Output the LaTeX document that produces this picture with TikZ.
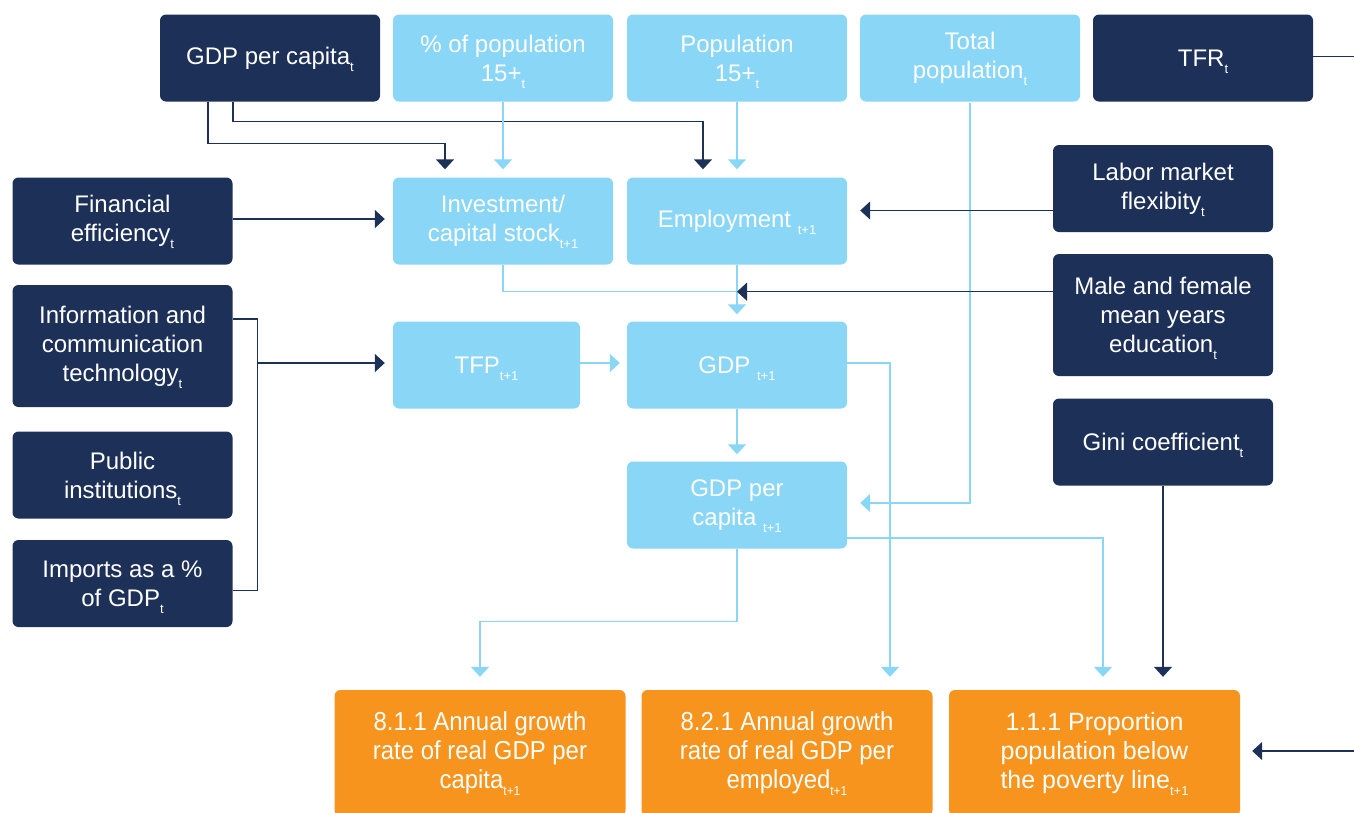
\documentclass[tikz,border=0pt]{standalone}
\usepackage{fontspec}
\setmainfont{Liberation Sans}
\newfontfamily\narrowfont[FakeStretch=0.92]{Liberation Sans}
\usetikzlibrary{arrows.meta, positioning, calc}
\definecolor{navy}{HTML}{1D3058}
\definecolor{sky}{HTML}{89D6F6}
\definecolor{amber}{HTML}{F7941E}
\newcommand{\idx}[1]{\raisebox{-7pt}[0pt][0pt]{\fontsize{13}{13}\selectfont #1}}

\begin{document}
\begin{tikzpicture}[x=1pt, y=-1pt,
    box/.style={rounded corners=6pt, text=white, align=center, inner sep=0pt,
      minimum width=220pt, minimum height=87pt, font=\fontsize{24}{29}\selectfont},
    darkbox/.style={box, fill=navy},
    lightbox/.style={box, fill=sky},
    goalbox/.style={box, fill=amber, minimum width=291pt, minimum height=126pt,
      font=\fontsize{25}{29}\selectfont},
    narrowgoal/.style={goalbox, font=\fontsize{26}{29}\narrowfont},
    dline/.style={draw=navy, line width=1.4pt},
    lline/.style={draw=sky, line width=1.4pt},
    darr/.style={dline, -{Triangle[width=18pt,length=10pt]}},
    larr/.style={lline, -{Triangle[width=18pt,length=10pt]}}]
  \useasboundingbox (0,0) rectangle (1354,812);
  \clip (0,0) rectangle (1354,812);

  % top row
  \node[darkbox] (gdppc) at (270,58) {GDP per capita\idx{t}};
  \node[lightbox] (pct15) at (503,58) {\% of population\\15+\idx{t}};
  \node[lightbox] (pop15) at (737,58) {Population\\15+\idx{t}};
  \node[lightbox] (totpop) at (970,58) {Total\\population\idx{t}};
  \node[darkbox] (tfr) at (1203,58) {TFR\idx{t}};

  % left column
  \node[darkbox] (fin) at (122.5,221) {Financial\\efficiency\idx{t}};
  \node[darkbox, minimum height=122pt] (ict) at (122.5,346) {Information and\\communication\\technology\idx{t}};
  \node[darkbox] (pub) at (122.5,475) {Public\\institutions\idx{t}};
  \node[darkbox] (imp) at (122.5,583.5) {Imports as a \%\\of GDP\idx{t}};

  % middle
  \node[lightbox] (inv) at (503,221) {Investment/\\capital stock\idx{t+1}};
  \node[lightbox] (emp) at (737,221) {Employment \idx{t+1}};
  \node[lightbox, minimum width=187pt] (tfp) at (486.5,365) {TFP\idx{t+1}};
  \node[lightbox] (gdp) at (737,365) {GDP \idx{t+1}};
  \node[lightbox] (gdppc1) at (737,505) {GDP per\\capita \idx{t+1}};

  % right column
  \node[darkbox] (labor) at (1163,188.5) {Labor market\\flexibity\idx{t}};
  \node[darkbox, minimum height=122pt] (edu) at (1163,315) {Male and female\\mean years\\education\idx{t}};
  \node[darkbox] (gini) at (1163,442) {Gini coefficient\idx{t}};

  % goals
  \node[narrowgoal] (sdg811) at (480,753) {8.1.1 Annual growth\\rate of real GDP per\\capita\idx{t+1}};
  \node[narrowgoal] (sdg821) at (787,753) {8.2.1 Annual growth\\rate of real GDP per\\employed\idx{t+1}};
  \node[goalbox] (pov) at (1094.5,753) {1.1.1 Proportion\\population below\\the poverty line\idx{t+1}};

  \coordinate (tfrend) at (1360,56.5);
  \coordinate (povin) at (1360,751);
  \coordinate (join) at ($(emp.south)+(0,27)$);
  \coordinate (bus) at ($(ict.east)+(25,0)$);

  \draw[darr, shorten >=8pt] ([xshift=-62pt]gdppc.south) -- ++(0,42) -| ([xshift=-58pt]inv.north);
  \draw[darr, shorten >=8pt] ([xshift=-37pt]gdppc.south) -- ++(0,20) -| ([xshift=-34pt]emp.north);
  \draw[larr, shorten >=8pt] (pct15.south) -- (inv.north);
  \draw[larr, shorten >=8pt] (pop15.south) -- (emp.north);
  \draw[larr, shorten >=13pt] ([yshift=-1pt]totpop.south) |- ([yshift=2pt]gdppc1.east);
  \draw[dline] (tfr.east |- tfrend) -- (tfrend);

  \draw[darr, shorten >=8pt] ([yshift=2pt]fin.east) -- ([yshift=2pt]inv.west);
  \draw[darr, shorten >=13pt] ([yshift=-22pt]labor.west) -- ([yshift=-22pt]labor.west -| emp.east);

  \draw[lline] (inv.south) |- (join);
  \draw[larr, shorten >=7pt] (emp.south) -- (gdp.north);
  \draw[darr] (join -| edu.west) -- (join);

  \draw[dline] ([yshift=27pt]ict.east) -| ([yshift=-7pt]imp.east -| bus) -- ([yshift=-7pt]imp.east);
  \draw[darr, shorten >=8pt] ([yshift=2pt]tfp.west -| bus) -- ([yshift=2pt]tfp.west);
  \draw[larr, shorten >=7pt] ([yshift=2pt]tfp.east) -- ([yshift=2pt]gdp.west);
  \draw[larr, shorten >=7pt] (gdp.south) -- (gdppc1.north);

  \draw[larr, shorten >=13pt] ([yshift=2pt]gdp.east) -| ([xshift=103pt]sdg821.north);
  \draw[larr, shorten >=13pt] (gdppc1.south) -- ++(0,73) -| (sdg811.north);
  \draw[larr, shorten >=13pt] ([yshift=-33pt]gdppc1.east) -| ([xshift=8.5pt]pov.north);
  \draw[darr, shorten >=13pt] (gini.south) -- (gini.south |- pov.north);
  \draw[darr, shorten >=12pt] (povin) -- (pov.east |- povin);
\end{tikzpicture}
\end{document}
